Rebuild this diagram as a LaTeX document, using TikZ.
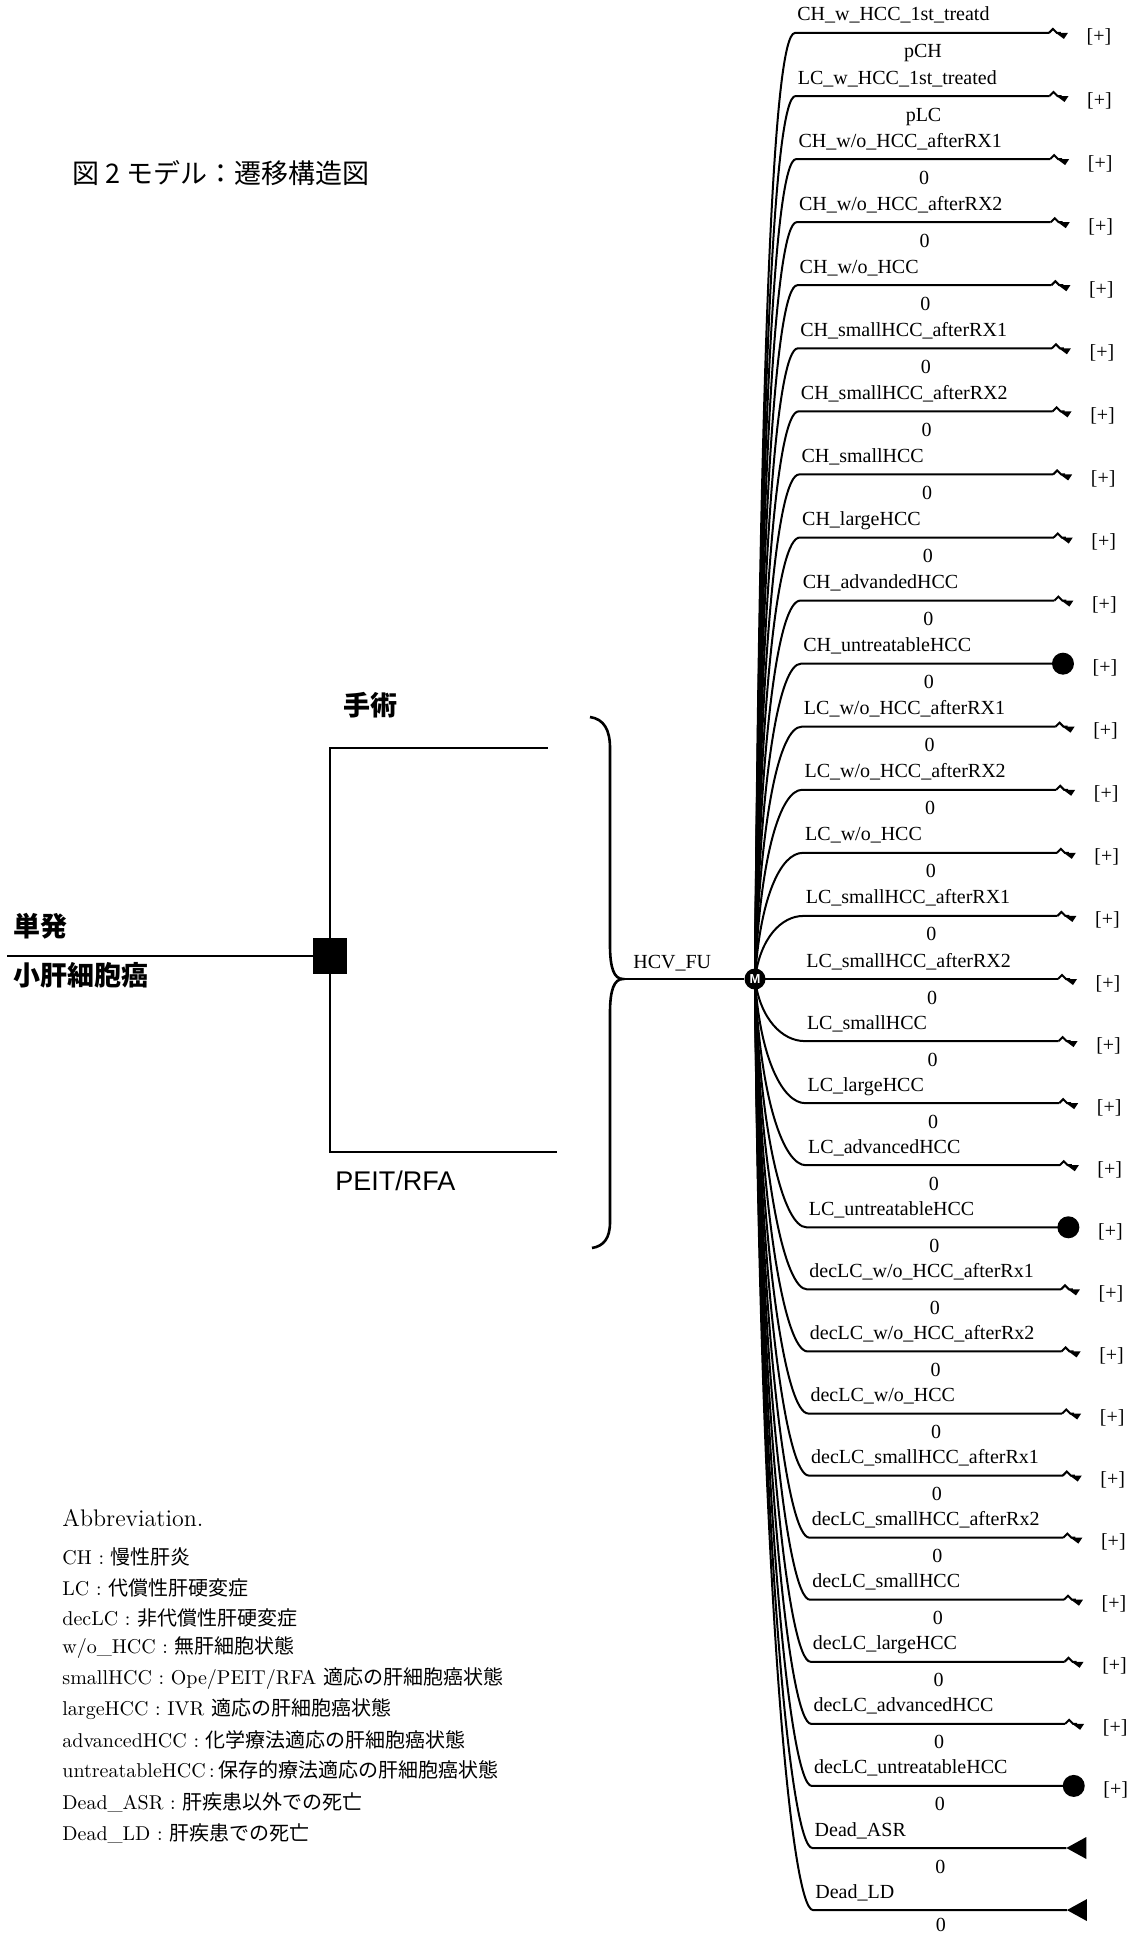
\documentclass[tikz,border=0pt]{standalone}
\usepackage{fontspec}
\newfontfamily\tms{Liberation Serif}
\newfontfamily\ars{Liberation Sans}
\newfontfamily\jp{Noto Sans CJK JP}
\usetikzlibrary{calc}
\pgfdeclarelayer{bg}
\pgfsetlayers{bg,main}
\tikzset{
  br/.style={line width=1pt},
  dl/.style={line width=1pt},
  lbl/.style={font=\tms\fontsize{10}{12}\selectfont, inner sep=0pt, anchor=base west},
  prb/.style={font=\tms\fontsize{10}{12}\selectfont, inner sep=0pt, anchor=base},
  plus/.style={font=\tms\fontsize{10}{12}\selectfont, inner sep=0pt, anchor=base},
  jpb/.style={font=\jp\bfseries\fontsize{13.5}{16}\selectfont, inner sep=0pt, anchor=west},
  ab/.style={font=\fontsize{10}{12}\selectfont, inner sep=0pt, anchor=west},
}
\newcommand\trow[4]{%
  \pgfmathsetmacro\yy{#1<=16 ? 979-(16-#1)*63.07 : 979+(#1-16)*62.07}%
  \pgfmathsetmacro\off{0.0096*(\yy-979)}%
  \pgfmathsetmacro\cy{\yy<979 ? \yy+0.35*(979-\yy) : \yy-0.35*(\yy-979)}%
  \pgfmathsetmacro\py{min(\yy+25,1931)}%
  \coordinate (c#1) at ({804+\off},\yy);
  \coordinate (e#1) at ({1058+\off},\yy);
  \draw[br] (M.center) .. controls (760,\cy) and ({782+\off},\yy) .. (c#1) -- (e#1);
  \node[lbl] (l#1) at ({806+\off},{\yy-12}) {#2};
  \node[prb] (p#1) at ({932+\off},\py) {#3};
  \csname mk#4\endcsname{#1}%
}
\newcommand\mka[1]{%
  \draw[br] (e#1) -- ++(4,-4) -- ++(4,4) -- ++(4,0);
  \fill (e#1) ++(7,0) -- ++(12,0) -- ++(-4,6) -- cycle;
  \node[plus] (q#1) at ($(e#1)+(50,10)$) {[+]};
}
\newcommand\mkc[1]{%
  \fill ($(e#1)+(8,0)$) circle[radius=5.5pt];
  \node[plus] (q#1) at ($(e#1)+(50,10)$) {[+]};
}
\newcommand\mkt[1]{%
  \fill (e#1) -- ++(20,-11) -- ++(0,22) -- cycle;
}
\begin{document}
\begin{tikzpicture}[x=0.5pt,y=-0.5pt]
\useasboundingbox (0,0) rectangle (1137,1934);
% title
\node[font=\jp\fontsize{13.5}{16}\selectfont, anchor=west, inner sep=0pt] (title) at (72,173) {図 2 モデル：遷移構造図};
% decision part
\node[fill=black, minimum width=17pt, minimum height=18pt, inner sep=0pt] (dec) at (330,956) {};
\coordinate (root) at (7,956);
\coordinate (op) at (548,748);
\coordinate (pe) at (557,1152);
\draw[dl] (root) -- (dec.west);
\draw[dl] (dec.north) |- (op);
\draw[dl] (dec.south) |- (pe);
\node[jpb] (tan) at (13,926) {単発};
\node[jpb] (sho) at (13,975) {小肝細胞癌};
\node[jpb] (shu) at (343,705) {手術};
\node[font=\ars\fontsize{13.5}{16}\selectfont, anchor=west, inner sep=0pt] (peit) at (335,1181) {PEIT/RFA};
% bracket
\coordinate (tip) at (623,979);
\draw[line width=1.3pt] (590,717) .. controls (604,719) and (610,730) .. (610,748) -- (610,945)
  .. controls (610,968) and (614,979) .. (tip)
  .. controls (614,979) and (610,990) .. (610,1013) -- (610,1222)
  .. controls (610,1238) and (604,1246) .. (592,1248);
% Markov node
\node[circle, fill=black, minimum size=10.5pt, inner sep=0pt, text=white,
      font=\ars\bfseries\fontsize{6.5}{7}\selectfont] (M) at (755,979) {M};
\draw[br] (tip) -- (M);
\node[lbl] (hcv) at (633,968) {HCV\_FU};
\begin{pgfonlayer}{bg}
\trow{1}{CH\_w\_HCC\_1st\_treatd}{pCH}{a}
\trow{2}{LC\_w\_HCC\_1st\_treated}{pLC}{a}
\trow{3}{CH\_w/o\_HCC\_afterRX1}{0}{a}
\trow{4}{CH\_w/o\_HCC\_afterRX2}{0}{a}
\trow{5}{CH\_w/o\_HCC}{0}{a}
\trow{6}{CH\_smallHCC\_afterRX1}{0}{a}
\trow{7}{CH\_smallHCC\_afterRX2}{0}{a}
\trow{8}{CH\_smallHCC}{0}{a}
\trow{9}{CH\_largeHCC}{0}{a}
\trow{10}{CH\_advandedHCC}{0}{a}
\trow{11}{CH\_untreatableHCC}{0}{c}
\trow{12}{LC\_w/o\_HCC\_afterRX1}{0}{a}
\trow{13}{LC\_w/o\_HCC\_afterRX2}{0}{a}
\trow{14}{LC\_w/o\_HCC}{0}{a}
\trow{15}{LC\_smallHCC\_afterRX1}{0}{a}
\trow{16}{LC\_smallHCC\_afterRX2}{0}{a}
\trow{17}{LC\_smallHCC}{0}{a}
\trow{18}{LC\_largeHCC}{0}{a}
\trow{19}{LC\_advancedHCC}{0}{a}
\trow{20}{LC\_untreatableHCC}{0}{c}
\trow{21}{decLC\_w/o\_HCC\_afterRx1}{0}{a}
\trow{22}{decLC\_w/o\_HCC\_afterRx2}{0}{a}
\trow{23}{decLC\_w/o\_HCC}{0}{a}
\trow{24}{decLC\_smallHCC\_afterRx1}{0}{a}
\trow{25}{decLC\_smallHCC\_afterRx2}{0}{a}
\trow{26}{decLC\_smallHCC}{0}{a}
\trow{27}{decLC\_largeHCC}{0}{a}
\trow{28}{decLC\_advancedHCC}{0}{a}
\trow{29}{decLC\_untreatableHCC}{0}{c}
\trow{30}{Dead\_ASR}{0}{t}
\trow{31}{Dead\_LD}{0}{t}
\end{pgfonlayer}
% abbreviations
\node[font=\fontsize{12}{14}\selectfont, inner sep=0pt, anchor=west] (abbr) at (62,1518) {Abbreviation.};
\node[ab] (a1) at (62,1557) {CH : {\jp 慢性肝炎}};
\node[ab] (a2) at (62,1588) {LC : {\jp 代償性肝硬変症}};
\node[ab] (a3) at (62,1618) {decLC : {\jp 非代償性肝硬変症}};
\node[ab] (a4) at (62,1648) {w/o\_HCC : {\jp 無肝細胞状態}};
\node[ab] (a5) at (62,1679) {smallHCC : Ope/PEIT/RFA {\jp 適応の肝細胞癌状態}};
\node[ab] (a6) at (62,1709) {largeHCC : IVR {\jp 適応の肝細胞癌状態}};
\node[ab] (a7) at (62,1740) {advancedHCC : {\jp 化学療法適応の肝細胞癌状態}};
\node[ab] (a8) at (62,1770) {untreatableHCC\,:\,{\jp 保存的療法適応の肝細胞癌状態}};
\node[ab] (a9) at (62,1802) {Dead\_ASR : {\jp 肝疾患以外での死亡}};
\node[ab] (a10) at (62,1833) {Dead\_LD : {\jp 肝疾患での死亡}};
\end{tikzpicture}
\end{document}
